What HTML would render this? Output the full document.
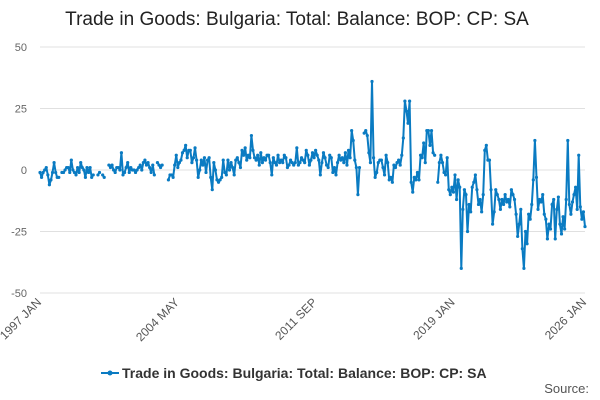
<!DOCTYPE html>
<html><head><meta charset="utf-8"><style>
body{margin:0;background:#fff;font-family:"Liberation Sans",sans-serif}
svg{display:block}
</style></head><body>
<svg id="c" width="600" height="400">
<text x="297" y="25" text-anchor="middle" font-size="19" fill="#222">Trade in Goods: Bulgaria: Total: Balance: BOP: CP: SA</text>
<g id="grid"></g><g id="xl"></g><g id="plot"></g>
<g>
<line x1="101" y1="373" x2="119" y2="373" stroke="#0a7bc2" stroke-width="2"/>
<circle cx="110" cy="373" r="2.5" fill="#0a7bc2"/>
<text x="122" y="378" font-size="14" font-weight="bold" fill="#333">Trade in Goods: Bulgaria: Total: Balance: BOP: CP: SA</text>
</g>
<text x="589" y="393" text-anchor="end" font-size="13" fill="#555">Source:</text>
</svg>
<script>
const yTicks=[50,25,0,-25,-50];
const xTickLabels=["1997 JAN","2004 MAY","2011 SEP","2019 JAN","2026 JAN"];
const xTickIndex=[0,88,176,264,348];
const values=[
-1,-3,-1,0,1,-2,-6,-4,-1,3,-1,-3,
-3,null,-1,-1,0,1,1,-1,4,0,-1,-2,
1,-1,3,1,0,-3,1,-1,1,-3,-2,null,
null,-2,-1,null,-2,-3,null,null,2,1,2,0,
-1,1,1,0,7,-2,-1,1,3,-1,1,0,
0,-1,0,1,2,0,3,4,2,3,1,-1,
2,-2,null,3,2,1,2,null,null,null,-4,-2,
-2,-3,2,6,1,3,4,7,8,10,5,8,
8,3,5,9,4,-3,0,4,2,5,-1,4,
5,-3,-8,3,0,-4,-5,-4,-3,4,-1,-2,
4,0,3,1,-2,4,5,3,1,8,6,9,
4,6,5,14,8,5,4,6,2,7,3,5,
4,6,6,3,-2,5,3,2,6,3,4,3,
6,5,1,2,4,3,2,3,9,2,3,5,
4,3,8,6,2,4,7,5,8,6,4,-2,
3,7,5,2,1,6,5,-1,1,-2,3,6,
4,5,3,7,2,8,5,16,12,4,1,-10,
1,null,null,15,16,14,7,3,36,5,-3,-1,
3,4,4,1,-2,6,3,-4,-3,-5,2,1,
3,4,2,6,13,28,24,19,28,-5,-9,-3,
-4,-1,-4,6,5,11,3,16,16,10,16,7,
6,null,-5,3,6,3,-1,-2,5,-8,-10,-7,
-9,-2,-12,-4,-7,-40,-16,-8,-10,-25,-14,-17,
-7,-5,-2,-8,-14,-12,-17,-10,8,10,4,4,
-8,-22,-17,-8,-10,-12,-16,-12,-14,-10,-13,-12,
-15,-8,-10,-12,-18,-27,-22,-16,-32,-40,-25,-30,
-18,-20,-14,-4,12,-3,-16,-12,-13,-10,-18,-20,
-28,-22,-24,-14,-12,-28,-16,-11,-22,-26,-19,-24,
-12,12,-14,-18,-13,-10,-7,-16,6,-15,-20,-17,
-23];
const NS="http://www.w3.org/2000/svg";
const x0=40,x1=585,y0=293,y1=47,n=348;
const xs=i=>x0+(x1-x0)*i/n;
const ys=v=>y0+(y1-y0)*(v+50)/100;
const grid=document.getElementById('grid');
yTicks.forEach(t=>{
 const l=document.createElementNS(NS,'line');
 l.setAttribute('x1',x0);l.setAttribute('x2',x1);l.setAttribute('y1',ys(t));l.setAttribute('y2',ys(t));
 l.setAttribute('stroke','#e0e0e0');
 
 
 grid.appendChild(l);
 const tx=document.createElementNS(NS,'text');
 tx.setAttribute('x',x0-13);tx.setAttribute('y',ys(t)+4);tx.setAttribute('text-anchor','end');
 tx.setAttribute('font-size','11');tx.setAttribute('fill','#666');tx.textContent=t;
 
 
 grid.appendChild(tx);
});
const xl=document.getElementById('xl');
xTickLabels.forEach((s,k)=>{
 const x=xs(xTickIndex[k]);
 const tx=document.createElementNS(NS,'text');
 tx.setAttribute('transform','translate('+(x+2)+',303) rotate(-45)');
 tx.setAttribute('text-anchor','end');tx.setAttribute('font-size','12');tx.setAttribute('fill','#555');
 tx.textContent=s;
 
 
 xl.appendChild(tx);
});
const plot=document.getElementById('plot');
let d='',pen=false;
values.forEach((v,i)=>{
 if(v===null){pen=false;return;}
 d+=(pen?'L':'M')+xs(i).toFixed(1)+' '+ys(v).toFixed(1);pen=true;
});
const p=document.createElementNS(NS,'path');
p.setAttribute('d',d);p.setAttribute('fill','none');p.setAttribute('stroke','#0a7bc2');p.setAttribute('stroke-width','2');p.setAttribute('stroke-linejoin','round');


plot.appendChild(p);
values.forEach((v,i)=>{
 if(v===null)return;
 const c=document.createElementNS(NS,'circle');
 c.setAttribute('cx',xs(i));c.setAttribute('cy',ys(v));c.setAttribute('r','1.6');c.setAttribute('fill','#0a7bc2');
 
 
 plot.appendChild(c);
});
</script>
</body></html>
